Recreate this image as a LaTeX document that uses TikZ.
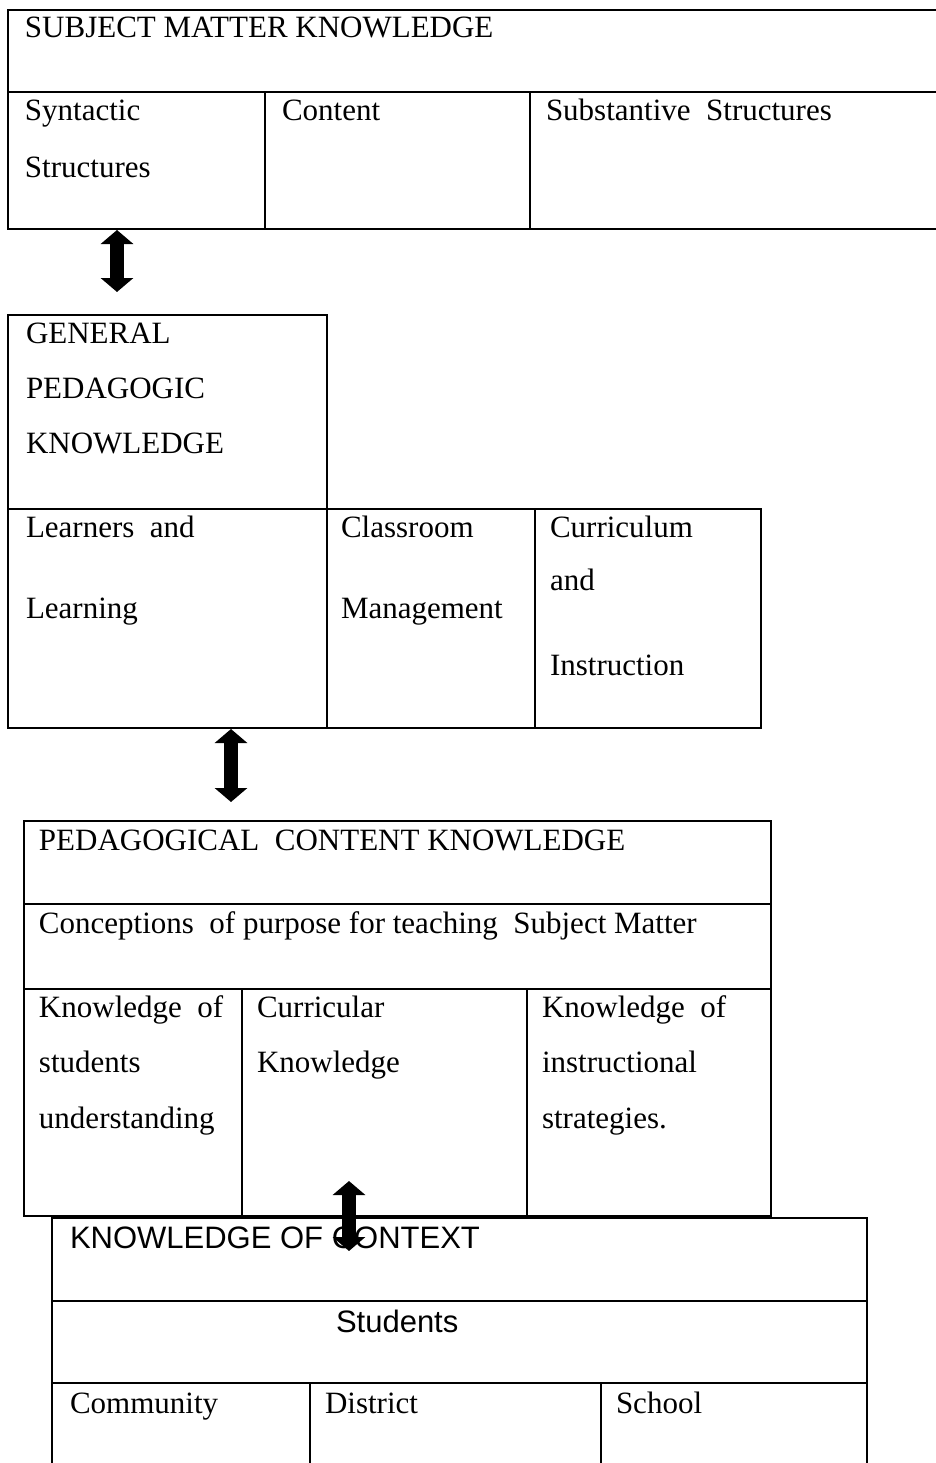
\documentclass[tikz,border=0pt]{standalone}
\usepackage{fontspec}
\setmainfont{Liberation Serif}
\newfontfamily\kocfont{Liberation Sans}
\usetikzlibrary{arrows.meta}

\begin{document}
\begin{tikzpicture}[x=0.5pt,y=-0.5pt,line width=1pt,
	>={Triangle[width=16pt,length=7pt]},
	font=\fontsize{15.5}{18}\selectfont,
	txt/.style={anchor=base west,inner sep=0pt,outer sep=0pt},
	sanstxt/.style={txt,font={\kocfont\fontsize{15.5}{18}\selectfont}},
	link/.style={<->,line width=7pt}]
	\useasboundingbox (0,0) rectangle (936,1463);
	% subject matter knowledge
	\draw [line width=1.2pt] (936,10) -- (8,10) -- (8,229) -- (936,229);
	\draw [line width=1.2pt] (8,92) -- (936,92) (265,92) -- (265,229) (530,92) -- (530,229);
	\node [txt] at (25,37) (smk) {SUBJECT MATTER KNOWLEDGE};
	\node [txt] at (25,120) (syn) {Syntactic};
	\node [txt] at (25,177) (syn2) {Structures};
	\node [txt] at (282,120) (cont) {Content};
	\node [txt] at (546,120) (subst) {Substantive\ \ Structures};
	% general pedagogic knowledge
	\draw (8,315) rectangle (327,509);
	\draw (8,509) rectangle (761,728);
	\draw (327,509) -- (327,728) (535,509) -- (535,728);
	\node [txt] at (26,343) (gpk) {GENERAL};
	\node [txt] at (26,398) (gpk2) {PEDAGOGIC};
	\node [txt] at (26,453) (gpk3) {KNOWLEDGE};
	\node [txt] at (26,537) (learn) {Learners\ \ and};
	\node [txt] at (26,618) (learn2) {Learning};
	\node [txt] at (341,537) (class) {Classroom};
	\node [txt] at (341,618) (class2) {Management};
	\node [txt] at (550,537) (curr) {Curriculum};
	\node [txt] at (550,590) (curr2) {and};
	\node [txt] at (550,675) (curr3) {Instruction};
	% pedagogical content knowledge
	\draw (24,821) rectangle (771,1216);
	\draw (24,904) -- (771,904) (24,989) -- (771,989);
	\draw (242,989) -- (242,1216) (527,989) -- (527,1216);
	\node [txt] at (39,850) (pck) {PEDAGOGICAL\ \ CONTENT KNOWLEDGE};
	\node [txt] at (39,933) (conc) {Conceptions\ \ of purpose for teaching\ \ Subject Matter};
	\node [txt] at (39,1017) (kstud) {Knowledge\ \ of};
	\node [txt] at (39,1072) (kstud2) {students};
	\node [txt] at (39,1128) (kstud3) {understanding};
	\node [txt] at (257,1017) (ccur) {Curricular};
	\node [txt] at (257,1072) (ccur2) {Knowledge};
	\node [txt] at (542,1017) (kinst) {Knowledge\ \ of};
	\node [txt] at (542,1072) (kinst2) {instructional};
	\node [txt] at (542,1128) (kinst3) {strategies.};
	% knowledge of context
	\draw [fill=white] (52,1463) -- (52,1218) -- (867,1218) -- (867,1463);
	\draw (52,1301) -- (867,1301) (52,1383) -- (867,1383);
	\draw (310,1383) -- (310,1463) (601,1383) -- (601,1463);
	\node [sanstxt] at (70,1248) (koc) {KNOWLEDGE OF CONTEXT};
	\node [sanstxt] at (336,1332) (stud) {Students};
	\node [txt] at (70,1413) (comm) {Community};
	\node [txt] at (325,1413) (dist) {District};
	\node [txt] at (616,1413) (school) {School};
	% arrows between the boxes
	\coordinate (a1) at (117,230);
	\coordinate (b1) at (117,292);
	\coordinate (a2) at (231,729);
	\coordinate (b2) at (231,802);
	\coordinate (a3) at (349,1181);
	\coordinate (b3) at (349,1251);
	\draw [link] (a1) -- (b1);
	\draw [link] (a2) -- (b2);
	\draw [link] (a3) -- (b3);
\end{tikzpicture}
\end{document}
